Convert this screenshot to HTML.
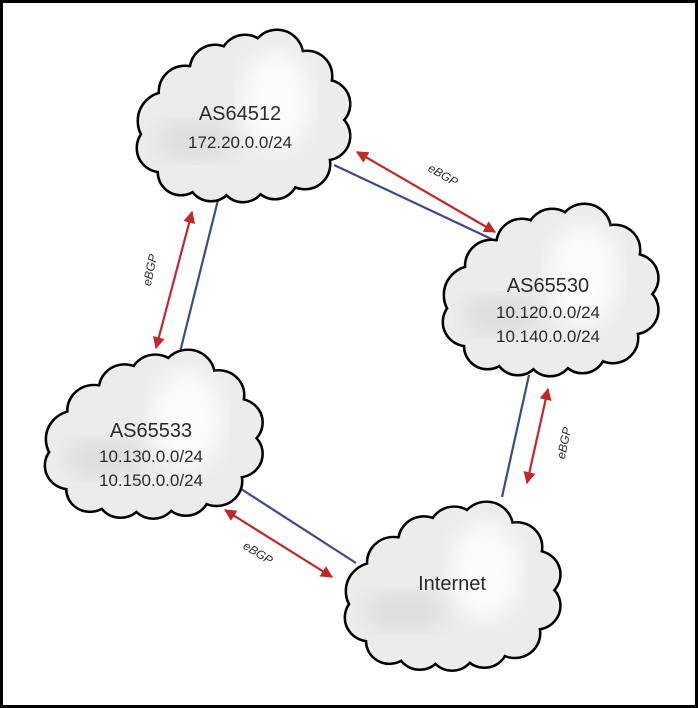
<!DOCTYPE html>
<html><head><style>
html,body{margin:0;padding:0;background:#000;}
svg{display:block;}
text{font-family:"Liberation Sans",Arial,sans-serif;fill:#2a2a2a;}
</style></head><body>
<svg width="698" height="708" viewBox="0 0 698 708" xmlns="http://www.w3.org/2000/svg">
<defs>
<g id="cs">
<ellipse cx="110" cy="92" rx="88" ry="62"/>
<circle cx="36" cy="95" r="28"/><circle cx="30" cy="122" r="23"/><circle cx="50" cy="146" r="22"/>
<circle cx="80" cy="152" r="22"/><circle cx="112" cy="153" r="22"/><circle cx="144" cy="150" r="22"/>
<circle cx="174" cy="138" r="24"/>
<circle cx="195" cy="110" r="23"/><circle cx="195" cy="78" r="23"/><circle cx="176" cy="50" r="24"/>
<circle cx="146" cy="30" r="25"/><circle cx="114" cy="34" r="24"/><circle cx="84" cy="44" r="24"/><circle cx="54" cy="66" r="25"/>
</g>
<filter id="bl"><feGaussianBlur stdDeviation="10"/></filter>
<g id="cloud">
<use href="#cs" fill="#000" stroke="#000" stroke-width="5"/>
<use href="#cs" fill="#ececec"/>
<ellipse cx="145" cy="75" rx="35" ry="50" fill="#fbfbfb" filter="url(#bl)"/>
<ellipse cx="65" cy="115" rx="40" ry="20" fill="#dedede" filter="url(#bl)"/>
</g>
<marker id="ah" viewBox="0 0 10 10" refX="9" refY="5" markerWidth="5.5" markerHeight="5.5" orient="auto-start-reverse">
<path d="M0,0 L10,5 L0,10 z" fill="#c0282a"/></marker>
</defs>
<rect x="3" y="3" width="692" height="702" fill="#fff"/>
<g stroke="#3a4a8a" stroke-width="2.2">
<line x1="334" y1="165" x2="500" y2="243"/>
<line x1="218" y1="200" x2="178" y2="360"/>
<line x1="529" y1="375" x2="502" y2="497"/>
<line x1="238" y1="487" x2="356" y2="563"/>
</g>
<g stroke="#c0282a" stroke-width="2.2" marker-start="url(#ah)" marker-end="url(#ah)">
<line x1="357" y1="152" x2="495" y2="232"/>
<line x1="192" y1="212" x2="156" y2="348"/>
<line x1="548" y1="389" x2="527" y2="483"/>
<line x1="225" y1="510" x2="332" y2="577"/>
</g>
<g font-size="12" font-style="italic">
<text x="443" y="179" text-anchor="middle" transform="rotate(30 443 175)">eBGP</text>
<text x="150" y="274" text-anchor="middle" transform="rotate(-78 150 270)">eBGP</text>
<text x="564" y="447" text-anchor="middle" transform="rotate(-78 564 443)">eBGP</text>
<text x="258" y="557" text-anchor="middle" transform="rotate(32 258 553)">eBGP</text>
</g>
<use href="#cloud" transform="translate(131,26)"/>
<use href="#cloud" transform="translate(437,200) scale(1.01,1.0)"/>
<use href="#cloud" transform="translate(39,346) scale(1.02,0.98)"/>
<use href="#cloud" transform="translate(339,498) scale(1.01,0.98)"/>
<g text-anchor="middle">
<text x="240" y="120" font-size="20">AS64512</text>
<text x="240" y="148" font-size="17">172.20.0.0/24</text>
<text x="548" y="292" font-size="20">AS65530</text>
<text x="548" y="318" font-size="17">10.120.0.0/24</text>
<text x="548" y="342" font-size="17">10.140.0.0/24</text>
<text x="151" y="437" font-size="20">AS65533</text>
<text x="151" y="462" font-size="17">10.130.0.0/24</text>
<text x="151" y="486" font-size="17">10.150.0.0/24</text>
<text x="452" y="590" font-size="20">Internet</text>
</g>
</svg>
</body></html>
